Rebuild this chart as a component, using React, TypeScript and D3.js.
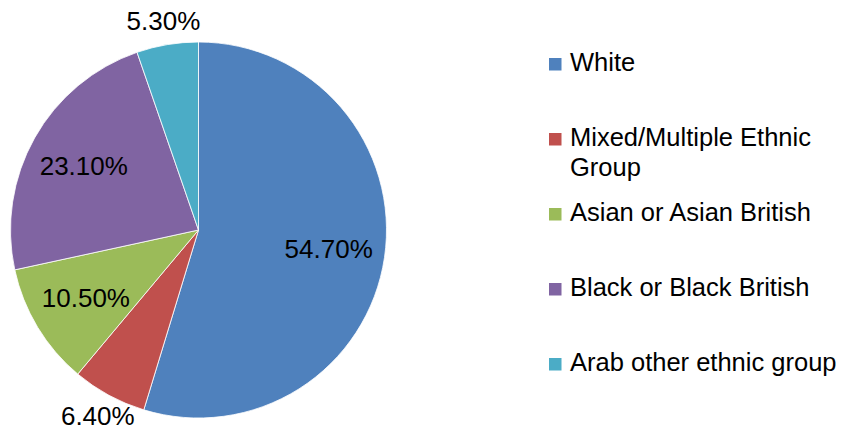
import React from "react";
import * as d3 from "d3";

const categories = [
  "White",
  "Mixed/Multiple Ethnic Group",
  "Asian or Asian British",
  "Black or Black British",
  "Arab other ethnic group",
];
const values = [54.7, 6.4, 10.5, 23.1, 5.3];
const valueLabels = ["54.70%", "6.40%", "10.50%", "23.10%", "5.30%"];
const legendLines = [["White"], ["Mixed/Multiple Ethnic", "Group"], ["Asian or Asian British"], ["Black or Black British"], ["Arab other ethnic group"]];
const colors = ["#4F81BD", "#C0504D", "#9BBB59", "#8064A2", "#4BACC6"];

const W = 850;
const H = 435;
const cx = 198.5;
const cy = 230;
const R = 188;
const FONT = "'Liberation Sans', Arial, sans-serif";

export default function App() {
  const pie = d3.pie<number>().sort(null).value((d) => d);
  const arcs = pie(values);
  const arc = d3.arc<d3.PieArcDatum<number>>().innerRadius(0).outerRadius(R);
  const inLabel = d3.arc<d3.PieArcDatum<number>>().innerRadius(R * 0.7).outerRadius(R * 0.7);
  const outLabel = d3.arc<d3.PieArcDatum<number>>().innerRadius(R * 1.125).outerRadius(R * 1.125);

  const legendY = d3.scalePoint<number>().domain(d3.range(categories.length)).range([71, 371]);

  return (
    <svg width={W} height={H} style={{ position: "absolute", left: 0, top: 0, background: "#fff" }} fontFamily={FONT}>
      <g transform={`translate(${cx},${cy})`}>
        {arcs.map((a, i) => (
          <path key={i} d={arc(a) || ""} fill={colors[i]} stroke="#fff" strokeWidth={0.8} />
        ))}
        {arcs.map((a, i) => {
          const outside = values[i] < 8;
          const [x, y] = outside ? outLabel.centroid(a) : inLabel.centroid(a);
          return (
            <text key={i} x={x} y={y} textAnchor="middle" dominantBaseline="central" fontSize={26} fill="#000">
              {valueLabels[i]}
            </text>
          );
        })}
      </g>
      <g>
        {categories.map((c, i) => {
          const y = legendY(i) as number;
          return (
            <g key={c}>
              <rect x={549} y={y - 13} width={12.5} height={12.5} fill={colors[i]} />
              <text x={570} y={y} fontSize={25.5} fill="#000">
                {legendLines[i].map((t, j) => (
                  <tspan key={j} x={570} dy={j === 0 ? 0 : 30}>
                    {t}
                  </tspan>
                ))}
              </text>
            </g>
          );
        })}
      </g>
    </svg>
  );
}
